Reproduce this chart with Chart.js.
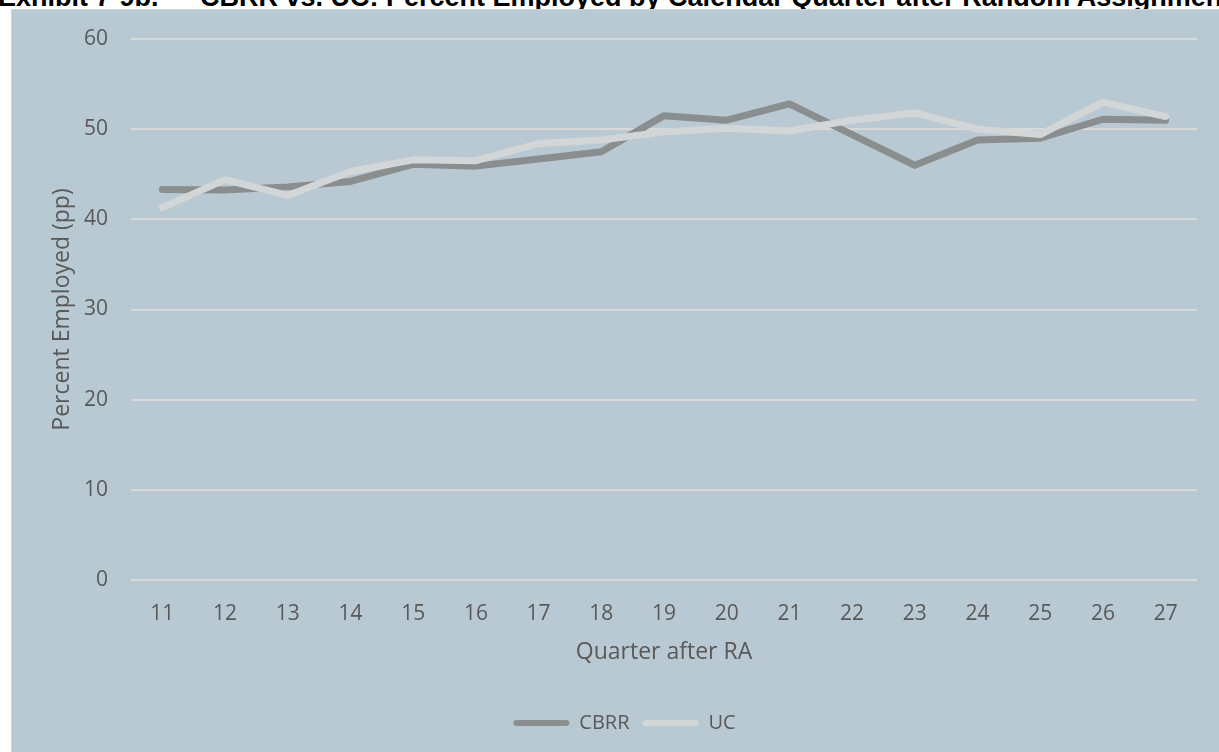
<!DOCTYPE html>
<html>
<head>
<meta charset="utf-8">
<script src="https://cdn.jsdelivr.net/npm/chart.js@4/dist/chart.umd.min.js"></script>
<style>
  html, body { margin: 0; padding: 0; background: #ffffff; }
  body { width: 1219px; height: 752px; overflow: hidden; position: relative; }
  #title { position: absolute; left: 0; top: -16px; width: 1219px; height: 30px; overflow: hidden;
           font: bold 27px "Liberation Sans", Arial, sans-serif; line-height: 27px; color: #000; white-space: nowrap; }
  #title span { position: absolute; top: 0; }
  #box { position: absolute; left: 11px; top: 9px; width: 1210px; height: 746px; border: 1px solid #d0d3d4; background: #b8c9d3; box-sizing: border-box; }
  #chart { position: absolute; left: 12px; top: 10px; }
</style>
</head>
<body>
<div id="title"><span style="left:-2px">Exhibit 7-9b.</span><span style="left:200px">CBRR vs. UC: Percent Employed by Calendar Quarter after Random Assignment</span></div>
<div id="box"></div>
<canvas id="chart" width="1207" height="742"></canvas>
<script>
const quarters = ['11','12','13','14','15','16','17','18','19','20','21','22','23','24','25','26','27'];
const cbrrValues = [43.3, 43.25, 43.6, 44.2, 46.1, 45.9, 46.7, 47.5, 51.5, 51.0, 52.8, 49.4, 46.0, 48.8, 49.0, 51.1, 51.0];
const ucValues   = [41.3, 44.4, 42.65, 45.3, 46.6, 46.5, 48.4, 48.8, 49.7, 50.1, 49.8, 51.0, 51.8, 50.0, 49.4, 53.0, 51.4];
const yTickValues = [0, 10, 20, 30, 40, 50, 60];

const textColor = '#595959';
const fontFamily = '"Open Sans", "Noto Sans", sans-serif';

const legendShift = {
  id: 'legendShift',
  afterLayout(chart) {
    if (chart.legend) { chart.legend.left += 20; chart.legend.right += 20; }
  }
};

new Chart(document.getElementById('chart'), {
  type: 'line',
  data: {
    labels: quarters,
    datasets: [
      { label: 'UC', data: ucValues, borderColor: '#d3d6d7', backgroundColor: '#d3d6d7',
        borderWidth: 7, pointRadius: 0, pointHoverRadius: 0, tension: 0,
        borderCapStyle: 'round', borderJoinStyle: 'round', fill: false },
      { label: 'CBRR', data: cbrrValues, borderColor: '#8b8e8e', backgroundColor: '#8b8e8e',
        borderWidth: 7, pointRadius: 0, pointHoverRadius: 0, tension: 0,
        borderCapStyle: 'round', borderJoinStyle: 'round', fill: false }
    ]
  },
  plugins: [legendShift],
  options: {
    responsive: false,
    animation: false,
    devicePixelRatio: 1,
    layout: { padding: { top: 29, right: 22, left: 0, bottom: 9 } },
    plugins: {
      title: { display: false },
      tooltip: { enabled: false },
      legend: {
        position: 'bottom',
        reverse: true,
        labels: {
          color: textColor,
          font: { family: fontFamily, size: 20 },
          boxWidth: 56,
          boxHeight: 6,
          padding: 13,
          useBorderRadius: true,
          borderRadius: 3,
          generateLabels: function(chart) {
            const items = Chart.defaults.plugins.legend.labels.generateLabels(chart);
            items.forEach(it => { it.lineWidth = 0; it.strokeStyle = 'rgba(0,0,0,0)'; });
            return items;
          }
        }
      }
    },
    scales: {
      x: {
        type: 'category',
        offset: true,
        grid: { display: false, drawTicks: false },
        border: { display: false },
        ticks: { color: textColor, font: { family: fontFamily, size: 21, lineHeight: 1.2 }, padding: 21, maxRotation: 0, autoSkip: false },
        title: { display: true, text: 'Quarter after RA', color: textColor,
                 font: { family: fontFamily, size: 23, lineHeight: 1.2 }, padding: { top: 0, bottom: 33.7 } },
        afterFit: function(scale) { scale.height = 120; }
      },
      y: {
        min: yTickValues[0],
        max: yTickValues[yTickValues.length - 1],
        afterBuildTicks: function(scale) { scale.ticks = yTickValues.map(v => ({ value: v })); },
        grid: { color: '#d9d9d9', lineWidth: 2, drawTicks: true, tickLength: 20, tickColor: 'rgba(0,0,0,0)' },
        border: { display: false },
        ticks: { color: textColor, font: { family: fontFamily, size: 21, lineHeight: 1.2 }, padding: 3 },
        title: { display: true, text: 'Percent Employed (pp)', color: textColor,
                 font: { family: fontFamily, size: 23, lineHeight: 1.2 }, padding: { top: 36.2, bottom: 0 } },
        afterFit: function(scale) { scale.width = 119; }
      }
    }
  }
});
</script>
</body>
</html>
